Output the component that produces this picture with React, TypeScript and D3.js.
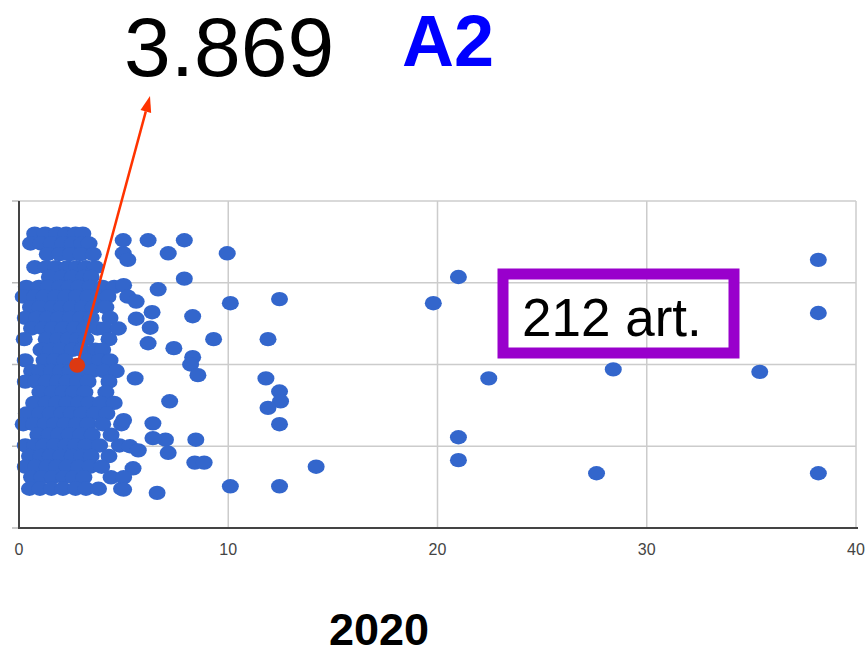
import * as React from "react";
import * as d3 from "d3";

const W = 866;
const H = 655;

const xTicks = [0, 10, 20, 30, 40];
const yTicks = [0, 1, 2, 3, 4];

// dense cluster, read row by row: [y, x values]
const coreRows: [number, number[]][] = [
  [3.6, [0.75, 1.25, 1.8, 2.25, 2.7, 3.05]],
  [3.48, [0.55, 1.05, 1.55, 2.1, 2.55, 3.0, 3.35]],
  [3.35, [1.35, 1.95, 2.45, 2.95, 3.55]],
  [3.19, [0.75, 1.3, 1.75, 2.3, 2.75, 3.2, 3.65]],
  [3.07, [1.45, 2.05, 2.55, 3.1, 3.45]],
  [2.95, [0.35, 0.95, 1.4, 1.95, 2.4, 2.85, 3.4, 4.0, 4.55]],
  [2.83, [0.2, 0.75, 1.2, 1.75, 2.25, 2.75, 3.3, 3.8, 4.25]],
  [2.7, [0.55, 1.0, 1.6, 2.05, 2.5, 3.05, 3.55, 4.15]],
  [2.57, [0.3, 0.85, 1.35, 1.9, 2.45, 2.95, 3.45, 4.35]],
  [2.44, [0.6, 1.15, 1.6, 2.1, 2.65, 3.15, 3.75, 4.1, 4.75]],
  [2.31, [0.25, 1.3, 1.85, 2.35, 2.8, 3.2, 4.3]],
  [2.18, [1.05, 1.5, 2.0, 2.55, 3.0, 3.65, 4.0]],
  [2.05, [0.3, 1.2, 1.7, 2.2, 3.25, 3.85, 4.35]],
  [1.92, [0.6, 1.0, 1.55, 2.0, 2.45, 3.0, 3.5, 4.05, 4.65]],
  [1.79, [0.3, 0.8, 1.3, 1.85, 2.3, 2.8, 3.3, 4.3]],
  [1.66, [1.0, 1.6, 2.1, 2.6, 3.15, 4.15]],
  [1.53, [0.7, 1.3, 1.8, 2.3, 2.85, 3.35, 3.9, 4.55]],
  [1.4, [0.35, 1.0, 1.5, 2.05, 2.5, 3.0, 3.6, 4.2]],
  [1.27, [0.2, 0.7, 1.25, 1.7, 2.2, 2.75, 3.3, 4.0, 4.9]],
  [1.14, [0.9, 1.45, 1.9, 2.4, 2.95, 3.5, 4.4]],
  [1.01, [0.3, 0.75, 1.2, 1.7, 2.25, 2.7, 3.2, 3.85, 4.8]],
  [0.88, [0.5, 1.05, 1.5, 2.0, 2.55, 3.0, 3.45, 4.3]],
  [0.75, [0.3, 0.8, 1.35, 1.8, 2.3, 2.85, 3.4, 3.95]],
  [0.62, [0.6, 1.1, 1.6, 2.15, 2.6, 3.1, 4.4]],
  [0.48, [0.5, 1.0, 1.55, 2.1, 2.7, 3.2, 3.8, 4.9]],
];

// points between 5 and 9
const midPoints: [number, number][] = [
  [4.98, 3.52], [6.17, 3.52], [7.9, 3.52], [7.13, 3.36], [4.98, 3.36],
  [5.2, 3.28], [7.9, 3.05], [6.65, 2.92], [5.0, 2.97], [5.2, 2.83],
  [5.6, 2.77], [6.36, 2.64], [8.3, 2.59], [5.6, 2.56], [6.27, 2.45],
  [6.17, 2.26], [7.4, 2.2], [8.3, 2.09], [8.2, 2.0], [8.55, 1.87],
  [5.55, 1.83], [7.2, 1.55], [5.0, 1.32], [6.4, 1.28], [7.0, 1.08],
  [6.4, 1.1], [8.45, 1.08], [5.3, 1.0], [5.7, 0.95], [7.13, 0.92],
  [8.4, 0.8], [8.85, 0.8], [5.45, 0.73], [5.0, 0.62], [5.0, 0.47],
  [6.6, 0.43],
];

// points from 9 upwards
const farPoints: [number, number][] = [
  [9.95, 3.36], [10.1, 2.75], [12.45, 2.8], [9.3, 2.31], [11.9, 2.31],
  [11.8, 1.83], [12.45, 1.67], [12.5, 1.55], [11.9, 1.47], [12.45, 1.27],
  [14.2, 0.75], [10.1, 0.51], [12.45, 0.51], [19.8, 2.75], [21.0, 3.07],
  [22.45, 1.83], [21.0, 1.11], [21.0, 0.83], [27.6, 0.67], [28.4, 1.94],
  [35.4, 1.91], [38.2, 3.28], [38.2, 2.63], [38.2, 0.67],
];

const highlight: [number, number] = [2.78, 1.99];

const valueLabel = "3.869";
const groupLabel = "A2";
const countLabel = "212 art.";
const yearLabel = "2020";

export default function App() {
  const ref = React.useRef<SVGSVGElement | null>(null);

  React.useEffect(() => {
    const svg = d3.select(ref.current);
    svg.selectAll("*").remove();

    const x = d3.scaleLinear([0, 40], [19, 856]);
    const y = d3.scaleLinear([0, 4], [528, 201]);
    const font = "'Liberation Sans', Arial, sans-serif";

    const points: [number, number][] = [
      ...coreRows.flatMap(([v, xs]) => xs.map((d) => [d, v] as [number, number])),
      ...midPoints,
      ...farPoints,
    ];

    // grid
    svg
      .append("g")
      .selectAll("line")
      .data(xTicks.slice(1))
      .enter()
      .append("line")
      .attr("x1", (d) => x(d))
      .attr("x2", (d) => x(d))
      .attr("y1", y(4))
      .attr("y2", y(0))
      .attr("stroke", "#cccccc")
      .attr("stroke-width", 1.5);
    svg
      .append("g")
      .selectAll("line")
      .data(yTicks.slice(1))
      .enter()
      .append("line")
      .attr("x1", x(0))
      .attr("x2", x(40))
      .attr("y1", (d) => y(d))
      .attr("y2", (d) => y(d))
      .attr("stroke", "#cccccc")
      .attr("stroke-width", 1.5);
    // small y ticks, no labels
    svg
      .append("g")
      .selectAll("line")
      .data(yTicks)
      .enter()
      .append("line")
      .attr("x1", x(0) - 7)
      .attr("x2", x(0))
      .attr("y1", (d) => y(d))
      .attr("y2", (d) => y(d))
      .attr("stroke", "#bbbbbb")
      .attr("stroke-width", 1.5);

    // points
    svg
      .append("g")
      .selectAll("ellipse")
      .data(points)
      .enter()
      .append("ellipse")
      .attr("cx", (d) => x(d[0]))
      .attr("cy", (d) => y(d[1]))
      .attr("rx", 8.5)
      .attr("ry", 7.2)
      .attr("fill", "#3366cc");

    // axis lines
    svg
      .append("line")
      .attr("x1", x(0))
      .attr("x2", x(0))
      .attr("y1", y(4))
      .attr("y2", y(0) + 1)
      .attr("stroke", "#444")
      .attr("stroke-width", 2);
    svg
      .append("line")
      .attr("x1", x(0) - 1)
      .attr("x2", x(40) + 2)
      .attr("y1", y(0))
      .attr("y2", y(0))
      .attr("stroke", "#444")
      .attr("stroke-width", 2);

    svg
      .append("g")
      .selectAll("text")
      .data(xTicks)
      .enter()
      .append("text")
      .attr("x", (d) => x(d))
      .attr("y", 555)
      .attr("text-anchor", "middle")
      .attr("font-family", font)
      .attr("font-size", 16)
      .attr("fill", "#444")
      .text((d) => d.toString());

    // highlighted point + arrow
    const hx = x(highlight[0]);
    const hy = y(highlight[1]);
    const tip = [150, 96];
    const ang = Math.atan2(tip[1] - hy, tip[0] - hx);
    const head = 16;
    const bx = tip[0] - head * Math.cos(ang);
    const by = tip[1] - head * Math.sin(ang);
    const px = -Math.sin(ang) * 5.5;
    const py = Math.cos(ang) * 5.5;
    svg
      .append("line")
      .attr("x1", hx)
      .attr("y1", hy)
      .attr("x2", bx)
      .attr("y2", by)
      .attr("stroke", "#ff3300")
      .attr("stroke-width", 2.5);
    svg
      .append("path")
      .attr("d", `M${tip[0]},${tip[1]}L${bx + px},${by + py}L${bx - px},${by - py}Z`)
      .attr("fill", "#ff3300");
    svg
      .append("ellipse")
      .attr("cx", hx)
      .attr("cy", hy)
      .attr("rx", 8)
      .attr("ry", 7.5)
      .attr("fill", "#dc3912");

    // annotations
    svg
      .append("text")
      .attr("x", 124)
      .attr("y", 76)
      .attr("font-family", font)
      .attr("font-size", 84)
      .attr("fill", "#000")
      .text(valueLabel);
    svg
      .append("text")
      .attr("x", 402)
      .attr("y", 66)
      .attr("font-family", font)
      .attr("font-weight", "bold")
      .attr("font-size", 72)
      .attr("fill", "#0000ff")
      .text(groupLabel);

    svg
      .append("rect")
      .attr("x", 503)
      .attr("y", 274)
      .attr("width", 231)
      .attr("height", 79)
      .attr("fill", "none")
      .attr("stroke", "#9900cc")
      .attr("stroke-width", 11);
    svg
      .append("text")
      .attr("x", 522)
      .attr("y", 336)
      .attr("font-family", font)
      .attr("font-size", 53)
      .attr("fill", "#000")
      .text(countLabel);

    svg
      .append("text")
      .attr("x", 379)
      .attr("y", 645)
      .attr("text-anchor", "middle")
      .attr("font-family", font)
      .attr("font-weight", "bold")
      .attr("font-size", 45)
      .attr("fill", "#000")
      .text(yearLabel);
  }, []);

  return (
    <svg
      ref={ref}
      width={W}
      height={H}
      style={{ position: "absolute", left: 0, top: 0, background: "#fff" }}
    />
  );
}
